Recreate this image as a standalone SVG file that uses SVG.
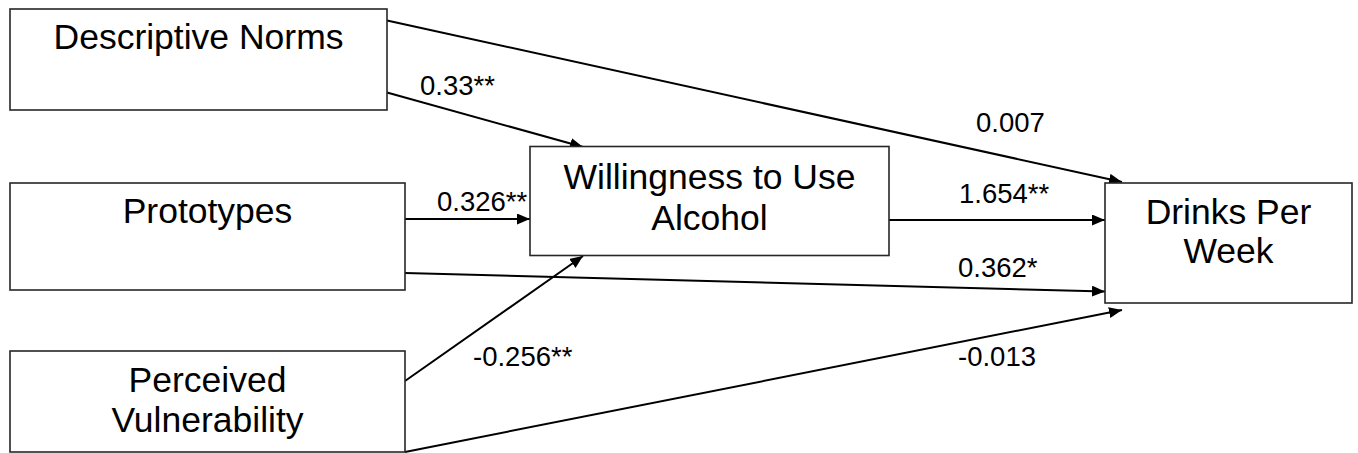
<svg xmlns="http://www.w3.org/2000/svg" width="1358" height="453" viewBox="0 0 1358 453">
<defs>
<marker id="arr" markerUnits="userSpaceOnUse" markerWidth="14" markerHeight="12" refX="13" refY="5.5" orient="auto">
<path d="M0,0 L13,5.5 L0,11 z" fill="#000"/>
</marker>
<style>
.box{fill:#fff;stroke:#262626;stroke-width:1.6}
.t{font-family:"Liberation Sans",Arial,sans-serif;font-size:35.5px;fill:#000;text-anchor:middle}
.l{font-family:"Liberation Sans",Arial,sans-serif;font-size:27.5px;fill:#000}
.c{stroke:#000;stroke-width:2;fill:none;marker-end:url(#arr)}
</style>
</defs>
<rect width="1358" height="453" fill="#fff"/>
<g id="connectors">
<line class="c" x1="387" y1="20.5" x2="1122" y2="182"/>
<line class="c" x1="387" y1="92.5" x2="583" y2="147"/>
<line class="c" x1="405" y1="219" x2="530" y2="219"/>
<line class="c" x1="889" y1="220" x2="1105" y2="220"/>
<line class="c" x1="405" y1="273" x2="1105" y2="291.5"/>
<line class="c" x1="405" y1="381" x2="583" y2="256"/>
<line class="c" x1="405" y1="452" x2="1122" y2="310"/>
</g>
<g id="labels">
<text class="l" x="420" y="95">0.33**</text>
<text class="l" x="976" y="131.5">0.007</text>
<text class="l" x="437" y="211">0.326**</text>
<text class="l" x="959" y="203">1.654**</text>
<text class="l" x="958" y="277">0.362*</text>
<text class="l" x="473" y="366">-0.256**</text>
<text class="l" x="958" y="365.5">-0.013</text>
</g>
<g id="descriptive-norms">
<rect class="box" x="10" y="9" width="377" height="101"/>
<text class="t" x="198.5" y="49">Descriptive Norms</text>
</g>
<g id="prototypes">
<rect class="box" x="10" y="183" width="395" height="107"/>
<text class="t" x="207.5" y="223">Prototypes</text>
</g>
<g id="perceived-vulnerability">
<rect class="box" x="10" y="351" width="395" height="101"/>
<text class="t" x="207.5" y="392">Perceived</text>
<text class="t" x="207.5" y="432">Vulnerability</text>
</g>
<g id="willingness">
<rect class="box" x="530" y="146.5" width="359" height="109"/>
<text class="t" x="709.5" y="188.5">Willingness to Use</text>
<text class="t" x="709.5" y="229.5">Alcohol</text>
</g>
<g id="drinks-per-week">
<rect class="box" x="1105" y="183" width="247" height="120"/>
<text class="t" x="1228.5" y="224">Drinks Per</text>
<text class="t" x="1228.5" y="263">Week</text>
</g>
</svg>
